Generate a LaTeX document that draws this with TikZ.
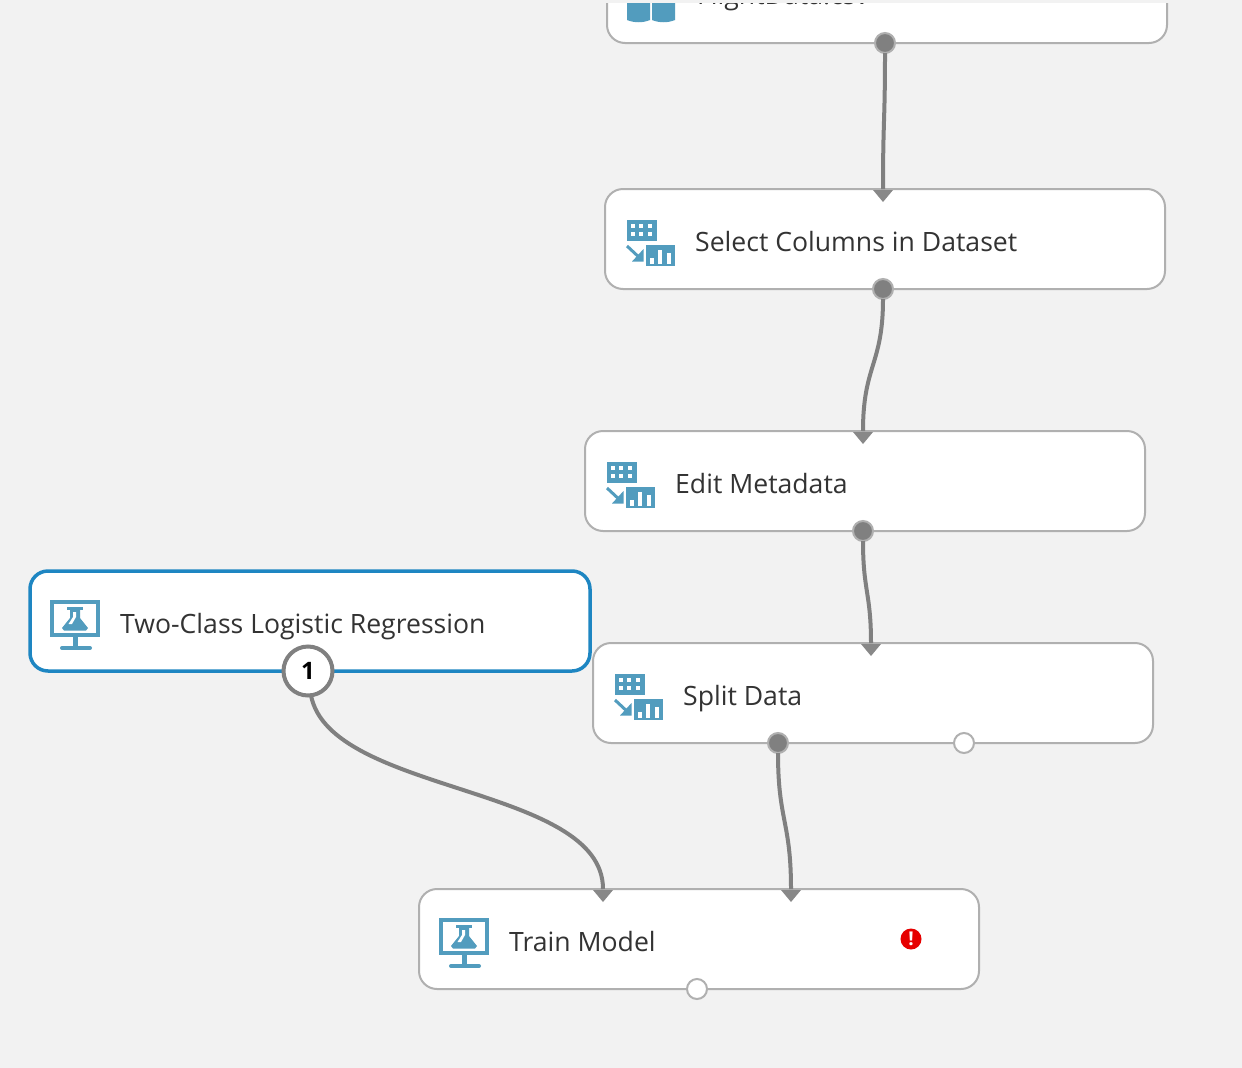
\documentclass[tikz,border=0pt]{standalone}
\usepackage{fontspec}
\setmainfont{Open Sans}
\usetikzlibrary{positioning}

\definecolor{canvasgray}{HTML}{F2F2F2}
\definecolor{modgray}{HTML}{B0B0B0}
\definecolor{wiregray}{HTML}{808080}
\definecolor{tipgray}{HTML}{888888}
\definecolor{iconblue}{HTML}{529CBE}
\definecolor{selblue}{HTML}{1E86C2}
\definecolor{errred}{HTML}{E60000}
\definecolor{textgray}{HTML}{333333}

\tikzset{
  module/.style={draw=modgray, line width=2pt, fill=white, rounded corners=18pt,
    minimum width=560pt, minimum height=100pt, inner sep=0pt, outer sep=0pt},
  selmodule/.style={module, draw=selblue, line width=3.5pt},
  modtext/.style={anchor=base west, text=textgray, inner sep=0pt, font=\fontsize{26.6}{30}\selectfont},
  outport/.style={circle, draw=modgray, line width=2pt, fill=wiregray, minimum size=20pt, inner sep=0pt, outer sep=0pt},
  freeport/.style={outport, fill=white},
  countport/.style={circle, draw=wiregray, line width=4pt, fill=white, minimum size=49pt, inner sep=0pt, outer sep=0pt,
    font=\bfseries\fontsize{24}{28}\selectfont},
  errmark/.style={circle, fill=errred, text=white, minimum size=21pt, inner sep=0pt,
    font=\bfseries\fontsize{19}{19}\selectfont},
  wire/.style={draw=wiregray, line width=4pt},
  inport/.pic={\fill[tipgray] (-10,-1) -- (10,-1) -- (0,-13) -- cycle;},
  tableicon/.pic={
    % table, arrow and chart, from the box corner
    \fill[iconblue] (22,-31) rectangle (52,-52);
    \fill[iconblue] (41,-56) rectangle (70,-77);
    \foreach \dx in {26,34,43} \foreach \dy in {-35,-43}
      \fill[white] (\dx,\dy) rectangle ++(4,-4);
    \fill[white] (45,-75) rectangle (49,-69);
    \fill[white] (53,-75) rectangle (57,-61);
    \fill[white] (62,-75) rectangle (66,-64);
    \draw[iconblue, line width=3pt] (22,-57) -- (37,-71);
    \fill[iconblue] (27,-72.5) -- (38.5,-72.5) -- (38.5,-60) -- cycle;
  },
  labicon/.pic={
    % screen with a flask on it
    \draw[iconblue, line width=3.5pt, fill=white] (21.8,-30.8) rectangle (68.2,-64.2);
    \fill[iconblue] (36.7,-35.7) rectangle (53,-39);
    \fill[iconblue] (40,-39) -- (50,-39) -- (50,-47) -- (58,-57) -- (56,-59.5) -- (34,-59.5) -- (32,-57) -- (40,-47) -- cycle;
    \fill[white] (43,-41) -- (46,-41) -- (46,-46) -- (42,-53) -- (38.5,-53) -- (43,-46) -- cycle;
    \draw[iconblue, line width=5pt] (45,-66) -- (45,-75);
    \draw[iconblue, line width=4pt, line cap=round] (32,-77) -- (60,-77);
  },
  dataicon/.pic={
    % only the foot of the two cylinders is left on the page
    \fill[iconblue] (20,-40) -- (43,-40) -- (43,-77) .. controls (36,-80) and (27,-80) .. (20,-77) -- cycle;
    \fill[iconblue] (45,-40) -- (68,-40) -- (68,-77) .. controls (61,-80) and (52,-80) .. (45,-77) -- cycle;
  },
}

\begin{document}
\begin{tikzpicture}[x=1pt, y=1pt]
  \useasboundingbox (0,0) rectangle (1242,-1068);
  \fill[canvasgray] (0,0) rectangle (1242,-1068);

  % the modules
  \node [module] (flight) at (887,7) {};
  \node [module, below=146pt of flight, xshift=-2pt] (select) {};
  \node [module, below=142pt of select, xshift=-20pt] (edit) {};
  \node [module, below=112pt of edit, xshift=8pt] (split) {};
  \node [module, below=146pt of split, xshift=-174pt] (train) {};
  \node [selmodule] (logistic) at (310,-621) {};

  \pic at (flight.north west) {dataicon};
  \pic at (select.north west) {tableicon};
  \pic at (edit.north west) {tableicon};
  \pic at (split.north west) {tableicon};
  \pic at (train.north west) {labicon};
  \pic at (logistic.north west) {labicon};

  \node [modtext] (flighttext) at ([xshift=90pt, yshift=-62pt]flight.north west) {FlightData.csv};
  \node [modtext] (selecttext) at ([xshift=90pt, yshift=-62pt]select.north west) {Select Columns in Dataset};
  \node [modtext] (edittext) at ([xshift=90pt, yshift=-62pt]edit.north west) {Edit Metadata};
  \node [modtext] (splittext) at ([xshift=90pt, yshift=-62pt]split.north west) {Split Data};
  \node [modtext] (traintext) at ([xshift=90pt, yshift=-62pt]train.north west) {Train Model};
  \node [modtext] (logistictext) at ([xshift=90pt, yshift=-62pt]logistic.north west) {Two-Class Logistic Regression};

  % the ports
  \coordinate (selectin) at ([xshift=-2pt]select.north);
  \coordinate (editin) at ([xshift=-2pt]edit.north);
  \coordinate (splitin) at ([xshift=-2pt]split.north);
  \coordinate (trainleft) at ([xshift=-96pt]train.north);
  \coordinate (trainright) at ([xshift=92pt]train.north);

  \node [outport] (flightout) at ([xshift=-2pt]flight.south) {};
  \node [outport] (selectout) at ([xshift=-2pt]select.south) {};
  \node [outport] (editout) at ([xshift=-2pt]edit.south) {};
  \node [outport] (splitleft) at ([xshift=-95pt]split.south) {};
  \node [freeport] (splitright) at ([xshift=91pt]split.south) {};
  \node [freeport] (trainout) at ([xshift=-2pt]train.south) {};
  \node [countport] (logisticout) at (308,-671) {1};
  \node [errmark] (trainerr) at (911,-939) {!};

  % the wires
  \draw [wire] (flightout.south) .. controls +(0,-68) and +(0,68) .. (selectin);
  \draw [wire] (selectout.south) .. controls +(0,-66) and +(0,66) .. (editin);
  \draw [wire] (editout.south) .. controls +(0,-50) and +(0,50) .. (splitin);
  \draw [wire] (splitleft.south) .. controls +(0,-68) and +(0,68) .. (trainright);
  \draw [wire] (logisticout.-83) .. controls +(19,-99) and +(0,104) .. (trainleft);

  \pic at (selectin) {inport};
  \pic at (editin) {inport};
  \pic at (splitin) {inport};
  \pic at (trainleft) {inport};
  \pic at (trainright) {inport};

  % strip along the top edge
  \fill[canvasgray] (0,0) rectangle (1242,-3);
\end{tikzpicture}
\end{document}
